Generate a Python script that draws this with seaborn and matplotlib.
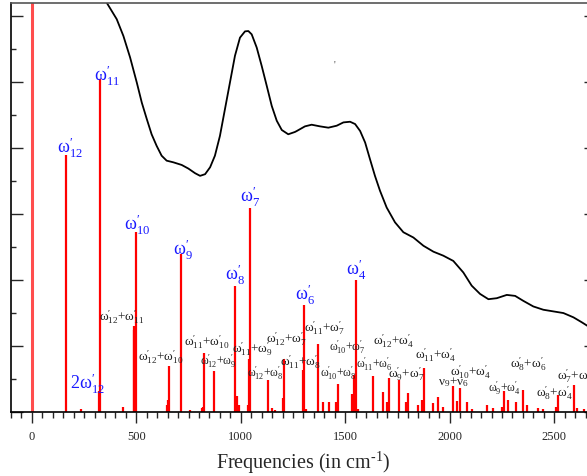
import matplotlib
matplotlib.use("Agg")
import matplotlib.pyplot as plt
from matplotlib.ticker import MultipleLocator, NullFormatter
import seaborn as sns
import pandas as pd

# stick spectrum (frequency in cm-1, intensity)
stick_freq = [0, 163, 326, 320, 235, 436, 487, 490, 497, 645, 650, 658, 712, 757,
              812, 817, 822, 872, 972, 977, 982, 993, 1032, 1038, 1044, 1132, 1148,
              1162, 1200, 1207, 1296, 1304, 1312, 1371, 1395, 1424, 1456, 1467, 1531,
              1542, 1551, 1561, 1631, 1682, 1701, 1711, 1757, 1791, 1802, 1847, 1866,
              1875, 1918, 1942, 1966, 2014, 2033, 2048, 2081, 2105, 2177, 2209, 2252,
              2261, 2277, 2317, 2349, 2368, 2424, 2448, 2509, 2520, 2595, 2608, 2643]
stick_int = [13.0, 7.8, 10.1, 0.64, 0.08, 0.15, 2.6, 2.5, 5.45, 0.22, 0.36, 1.4, 4.79, 0.05,
             0.12, 0.15, 1.8, 1.24, 3.82, 0.3, 0.48, 0.2, 0.2, 1.6, 6.2, 0.97, 0.12,
             0.06, 0.42, 1.6, 1.27, 3.24, 0.1, 2.06, 0.3, 0.3, 0.3, 0.85, 0.55,
             1.13, 4.0, 0.1, 1.08, 0.6, 0.3, 1.03, 0.98, 0.3, 0.58, 0.2, 0.35,
             1.33, 0.28, 0.45, 0.15, 0.78, 0.32, 0.72, 0.3, 0.1, 0.2, 0.12, 0.15,
             0.63, 0.37, 0.3, 0.67, 0.2, 0.13, 0.08, 0.15, 0.52, 0.83, 0.13, 0.1]

# broadened spectrum
curve_freq = [330, 358, 406, 438, 470, 502, 526, 550, 573, 597, 621, 645, 677, 717, 749,
              781, 805, 829, 853, 876, 900, 924, 948, 972, 996, 1020, 1036, 1052, 1076,
              1100, 1124, 1148, 1172, 1196, 1227, 1259, 1268, 1307, 1339, 1379, 1419,
              1459, 1491, 1523, 1547, 1571, 1595, 1618, 1642, 1666, 1698, 1738, 1778,
              1826, 1874, 1922, 1969, 2017, 2065, 2105, 2145, 2185, 2225, 2273, 2313,
              2352, 2400, 2448, 2496, 2544, 2592, 2632, 2657, 2700]
curve_int = [13.2, 12.41, 11.91, 11.40, 10.75, 9.99, 9.38, 8.88, 8.42, 8.07, 7.77, 7.62,
             7.57, 7.49, 7.38, 7.24, 7.16, 7.21, 7.42, 7.77, 8.37, 9.18, 9.99, 10.80,
             11.35, 11.54, 11.55, 11.45, 11.05, 10.49, 9.89, 9.28, 8.83, 8.55, 8.42,
             8.49, 8.52, 8.66, 8.71, 8.66, 8.62, 8.68, 8.78, 8.80, 8.73, 8.52, 8.17,
             7.67, 7.16, 6.71, 6.20, 5.75, 5.45, 5.29, 5.04, 4.86, 4.74, 4.58, 4.23,
             3.83, 3.58, 3.42, 3.45, 3.55, 3.52, 3.37, 3.20, 3.10, 3.05, 3.00, 2.87,
             2.72, 2.62, 2.45]


def w(n):
    return r"\mathrm{\omega}^{\prime}_{\mathrm{" + n + "}}"


# fundamental labels (blue)
fund_labels = ["$" + w("12") + "$", "$" + w("11") + "$", "$" + w("10") + "$",
               "$" + w("9") + "$", "$" + w("8") + "$", "$" + w("7") + "$",
               "$" + w("6") + "$", "$" + w("4") + "$", r"$\mathrm{2}" + w("12") + "$"]
fund_x = [182, 360, 503, 723, 972, 1044, 1307, 1551, 268]
fund_y = [8.03, 10.21, 5.70, 4.94, 4.18, 6.55, 3.58, 4.33, 0.88]

# combination labels (black)
comb_pairs = [("12", "11"), ("12", "10"), ("11", "10"), ("12", "9"), ("11", "9"),
              ("12", "8"), ("12", "7"), ("11", "8"), ("11", "7"), ("10", "7"),
              ("10", "8"), ("11", "6"), ("12", "4"), ("9", "7"), ("11", "4"),
              None, ("10", "4"), ("9", "4"), ("8", "6"), ("8", "4"), ("7", "4")]
comb_x = [431, 618, 838, 891, 1058, 1116, 1221, 1288, 1403, 1508, 1465, 1637, 1729, 1791,
          1930, 2016, 2102, 2260, 2375, 2499, 2600]
comb_y = [2.91, 1.70, 2.15, 1.58, 1.94, 1.21, 2.24, 1.55, 2.58, 2.0, 1.21, 1.48, 2.18, 1.18,
          1.76, 0.94, 1.24, 0.76, 1.48, 0.61, 1.12]
comb_small = [False, False, False, True, False, True, False, False, False, True, True, True,
              False, False, False, False, False, True, False, False, False]

sns.set_style("ticks")
plt.rcParams["font.family"] = ["Liberation Serif", "DejaVu Serif"]
plt.rcParams["mathtext.fontset"] = "custom"
plt.rcParams["mathtext.rm"] = "Liberation Serif"
plt.rcParams["mathtext.it"] = "Liberation Serif:italic"
plt.rcParams["mathtext.bf"] = "Liberation Serif:bold"

fig = plt.figure(figsize=(5.87, 4.77), dpi=100)
ax = fig.add_axes([11 / 587, 64 / 477, 585 / 587, 409 / 477])

ax.vlines(stick_freq[:1], 0, stick_int[:1], color="#ff4d4d", lw=2.2)
ax.vlines(stick_freq[1:], 0, stick_int[1:], color="red", lw=1.6)

df = pd.DataFrame({"freq": curve_freq, "inten": curve_int})
sns.lineplot(data=df, x="freq", y="inten", ax=ax, color="black", lw=1.3)

for t, x, y in zip(fund_labels, fund_x, fund_y):
    ax.text(x, y, t, color="#1a1aff", fontsize=13, ha="center", va="center")
for p, x, y, s in zip(comb_pairs, comb_x, comb_y, comb_small):
    if p is None:
        t = r"$\mathrm{\nu}_{\mathrm{9}}\mathrm{+}\mathrm{\nu}_{\mathrm{6}}$"
    else:
        t = "$" + w(p[0]) + r"\mathrm{+}" + w(p[1]) + "$"
    ax.text(x, y, t, color="#222222", fontsize=8.5 if s else 9.5, ha="center", va="center")
ax.text(1447, 10.55, "'", color="#444444", fontsize=7, ha="center", va="center")

ax.set_xlim(-100, 2700)
ax.set_ylim(0, 12.4)
ax.xaxis.set_major_locator(MultipleLocator(500))
ax.xaxis.set_minor_locator(MultipleLocator(50))
ax.yaxis.set_major_locator(MultipleLocator(2))
ax.yaxis.set_minor_locator(MultipleLocator(1))
ax.yaxis.set_major_formatter(NullFormatter())
ax.tick_params(axis="x", which="major", direction="out", length=8, width=1, labelsize=9, pad=5)
ax.tick_params(axis="x", which="minor", direction="out", length=4.3, width=1)
ax.tick_params(axis="y", which="major", direction="in", length=8.6, width=1, right=True, left=True)
ax.tick_params(axis="y", which="minor", direction="in", length=3.6, width=1, left=True, right=False)
for sp in ax.spines.values():
    sp.set_color("black")
    sp.set_linewidth(1.2)
ax.spines["top"].set_color("#555555")

ax.set_xlabel(r"Frequencies (in cm$^{\text{-1}}$)", fontsize=14.5, labelpad=5)
ax.set_ylabel("")

fig.savefig("out.png", dpi=100)
